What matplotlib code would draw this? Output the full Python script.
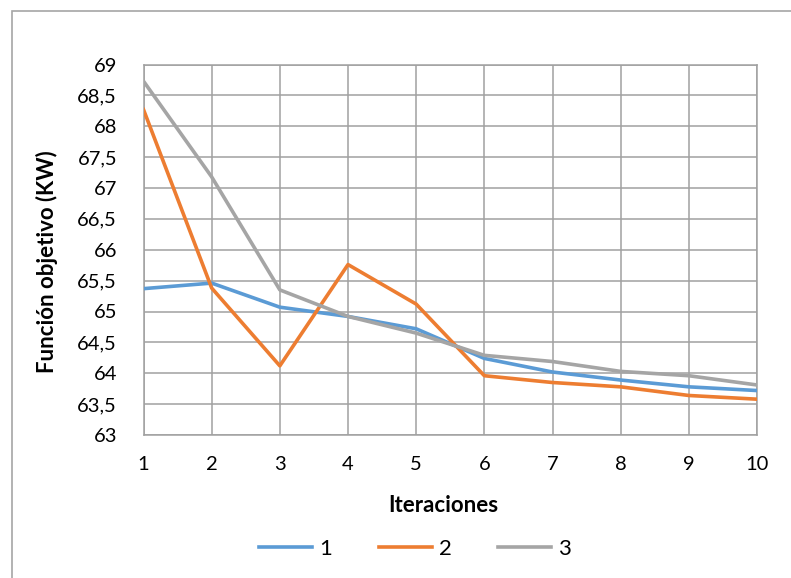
import matplotlib.pyplot as plt
from matplotlib.patches import Rectangle

iteraciones = [1, 2, 3, 4, 5, 6, 7, 8, 9, 10]
serie_1 = [65.37, 65.46, 65.07, 64.92, 64.72, 64.24, 64.02, 63.89, 63.78, 63.72]
serie_2 = [68.27, 65.38, 64.12, 65.76, 65.12, 63.96, 63.85, 63.78, 63.64, 63.58]
serie_3 = [68.73, 67.18, 65.35, 64.92, 64.65, 64.29, 64.19, 64.03, 63.96, 63.81]
y_ticks = [63, 63.5, 64, 64.5, 65, 65.5, 66, 66.5, 67, 67.5, 68, 68.5, 69]

plt.rcParams['font.family'] = ['Lato', 'DejaVu Sans']

fig = plt.figure(figsize=(7.91, 5.78), dpi=100)
# chart border (cut off on the right and bottom in the original)
fig.patches.append(Rectangle((11.5/791, -0.1), 1.2, 1 - 11/578 + 0.1,
                             transform=fig.transFigure, fill=False,
                             edgecolor='#A6A6A6', linewidth=1.2))

ax = fig.add_axes([143.5/791, 1 - 435/578, (757 - 143.5)/791, (435 - 64.5)/578])

ax.plot(iteraciones, serie_1, color='#5B9BD5', linewidth=2.6, label='1', zorder=3)
ax.plot(iteraciones, serie_2, color='#ED7D31', linewidth=2.6, label='2', zorder=3)
ax.plot(iteraciones, serie_3, color='#A5A5A5', linewidth=2.6, label='3', zorder=3)

ax.set_xlim(1, 10)
ax.set_ylim(63, 69)
ax.set_xticks(iteraciones)
ax.set_yticks(y_ticks)
ax.set_yticklabels([('%g' % v).replace('.', ',') for v in y_ticks])
ax.tick_params(length=0, labelsize=14.5, pad=19)
ax.tick_params(axis='x', pad=15)
ax.grid(True, color='#A0A0A0', linewidth=1.1)
for s in ax.spines.values():
    s.set_color('#A0A0A0')
    s.set_linewidth(1.1)

fig.text(443/791, 1 - 505/578, 'Iteraciones', fontsize=16, fontweight='bold',
         ha='center', va='center')
fig.text(47/791, 1 - 262/578, 'Función objetivo (KW)', fontsize=16,
         fontweight='bold', rotation=90, ha='center', va='center')

ax.legend(loc='center', bbox_to_anchor=(415/791, 1 - 549/578),
          bbox_transform=fig.transFigure, ncol=3, frameon=False,
          fontsize=16, handlelength=2.4, handletextpad=0.3, columnspacing=2.1)

fig.savefig('out.png', dpi=100)
